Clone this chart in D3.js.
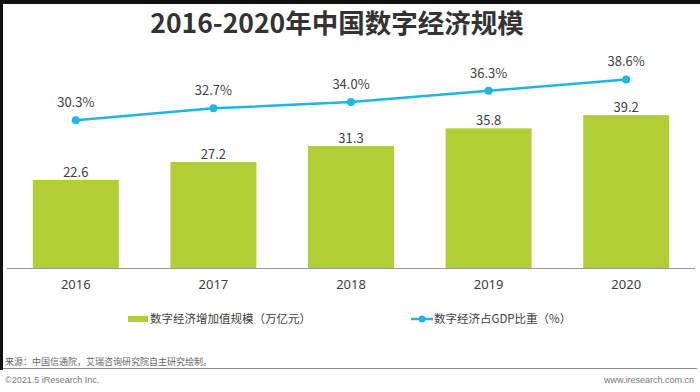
<!DOCTYPE html>
<html>
<head>
<meta charset="utf-8">
<script src="https://cdn.jsdelivr.net/npm/d3@7"></script>
<style>
  body { margin: 0; background: #fff; }
  svg { display: block; font-family: "Noto Sans CJK SC", "Noto Sans", sans-serif; }
</style>
</head>
<body>
<script>
// Data
const years = ['2016', '2017', '2018', '2019', '2020'];
const scaleValues = [22.6, 27.2, 31.3, 35.8, 39.2];   // 万亿元
const gdpShare = [30.3, 32.7, 34.0, 36.3, 38.6];       // %
const barLegend = '数字经济增加值规模（万亿元）';
const lineLegend = '数字经济占GDP比重（%）';

const width = 700;
const height = 392;
const baseY = 268;

const svg = d3.select('body').append('svg')
    .attr('width', width)
    .attr('height', height);

// frame strips from the screenshot
svg.append('rect').attr('x', 0).attr('y', 0).attr('width', width).attr('height', 4).attr('fill', '#111');
svg.append('rect').attr('x', 0).attr('y', 0).attr('width', 3).attr('height', 370).attr('fill', '#111');

// Title
svg.append('text')
    .attr('x', 337)
    .attr('y', 33)
    .attr('text-anchor', 'middle')
    .style('font-size', '26.5px')
    .style('font-weight', 'bold')
    .style('fill', '#333')
    .text('2016-2020年中国数字经济规模');

// Scales
const x = d3.scaleBand()
    .domain(years)
    .range([7, 695])
    .paddingInner(0.375)
    .paddingOuter(0.1875);

const yBar = d3.scaleLinear()
    .domain([0, 40])
    .range([baseY, baseY - 40 * 3.9]);

const yLine = d3.scaleLinear()
    .domain([0, 40])
    .range([baseY + 0.6, baseY + 0.6 - 40 * 4.9]);

// Bars
svg.append('g')
  .selectAll('rect')
  .data(scaleValues)
  .join('rect')
    .attr('x', (d, i) => x(years[i]))
    .attr('y', d => yBar(d))
    .attr('width', x.bandwidth())
    .attr('height', d => baseY - yBar(d))
    .attr('fill', '#b1cf34');

// Bar labels
svg.append('g')
  .selectAll('text')
  .data(scaleValues)
  .join('text')
    .attr('x', (d, i) => x(years[i]) + x.bandwidth() / 2)
    .attr('y', d => yBar(d) - 3)
    .attr('text-anchor', 'middle')
    .style('font-size', '13px')
    .style('fill', '#404040')
    .text(d => d.toFixed(1));

// Axis
const xAxis = svg.append('g')
    .attr('transform', `translate(0,${baseY})`)
    .call(d3.axisBottom(x).tickSize(0).tickPadding(12));
xAxis.select('.domain').attr('stroke', '#9a9a9a').attr('d', 'M7,0.5H695');
xAxis.selectAll('text')
    .style('font-size', '13px')
    .style('font-family', '"Noto Sans", sans-serif')
    .style('fill', '#404040');

// Line
const line = d3.line()
    .x((d, i) => x(years[i]) + x.bandwidth() / 2)
    .y(d => yLine(d));

svg.append('path')
    .datum(gdpShare)
    .attr('d', line)
    .attr('fill', 'none')
    .attr('stroke', '#1fb6e0')
    .attr('stroke-width', 2.5);

svg.append('g')
  .selectAll('circle')
  .data(gdpShare)
  .join('circle')
    .attr('cx', (d, i) => x(years[i]) + x.bandwidth() / 2)
    .attr('cy', d => yLine(d))
    .attr('r', 4)
    .attr('fill', '#1fb6e0');

svg.append('g')
  .selectAll('text')
  .data(gdpShare)
  .join('text')
    .attr('x', (d, i) => x(years[i]) + x.bandwidth() / 2)
    .attr('y', d => yLine(d) - 13)
    .attr('text-anchor', 'middle')
    .style('font-size', '13px')
    .style('fill', '#404040')
    .text(d => d.toFixed(1) + '%');

// Legend
const legend = svg.append('g').style('font-size', '11.5px').style('fill', '#404040');
legend.append('rect')
    .attr('x', 128).attr('y', 316).attr('width', 20).attr('height', 6)
    .attr('fill', '#b1cf34');
legend.append('text')
    .attr('x', 150).attr('y', 323)
    .text(barLegend);
legend.append('line')
    .attr('x1', 411).attr('x2', 433).attr('y1', 319).attr('y2', 319)
    .attr('stroke', '#1fb6e0').attr('stroke-width', 2.5);
legend.append('circle')
    .attr('cx', 422).attr('cy', 319).attr('r', 3.5)
    .attr('fill', '#1fb6e0');
legend.append('text')
    .attr('x', 434).attr('y', 323)
    .text(lineLegend);

// Footer
svg.append('text')
    .attr('x', 5).attr('y', 365)
    .style('font-size', '9px')
    .style('fill', '#666')
    .text('来源：中国信通院，艾瑞咨询研究院自主研究绘制。');
svg.append('line')
    .attr('x1', 3).attr('x2', 697).attr('y1', 368.5).attr('y2', 368.5)
    .attr('stroke', '#888').attr('stroke-width', 1);
svg.append('text')
    .attr('x', 5).attr('y', 383)
    .style('font-size', '9px')
    .style('font-family', '"Liberation Sans", Arial, sans-serif')
    .style('fill', '#777')
    .text('©2021.5 iResearch Inc.');
svg.append('text')
    .attr('x', 694).attr('y', 383)
    .attr('text-anchor', 'end')
    .style('font-size', '9px')
    .style('font-family', '"Liberation Sans", Arial, sans-serif')
    .style('fill', '#777')
    .text('www.iresearch.com.cn');
</script>
</body>
</html>
